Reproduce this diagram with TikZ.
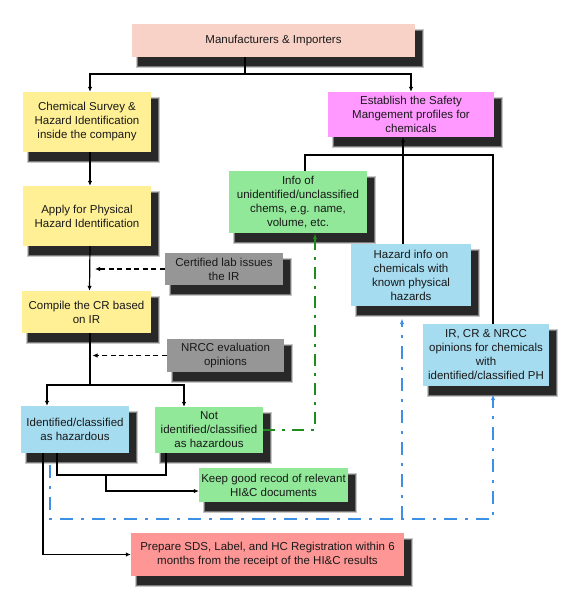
\documentclass[tikz,border=0pt]{standalone}
\usepackage{fontspec}
\setmainfont{Liberation Sans}
\usetikzlibrary{arrows.meta,calc}
\definecolor{cman}{RGB}{248,210,198}
\definecolor{cyel}{RGB}{255,240,150}
\definecolor{cpink}{RGB}{255,153,255}
\definecolor{cgreen}{RGB}{144,232,152}
\definecolor{cblue}{RGB}{166,220,240}
\definecolor{cgray}{RGB}{150,150,150}
\definecolor{cprep}{RGB}{255,150,150}
\definecolor{lgreen}{RGB}{30,140,30}
\definecolor{lblue}{RGB}{60,145,230}
\definecolor{shA}{RGB}{200,200,200}
\definecolor{shB}{RGB}{120,120,120}
\definecolor{shC}{RGB}{40,40,40}
\tikzset{
  box/.style={rectangle, inner sep=1pt, align=center,
    font=\fontsize{11.5}{14}\selectfont, text=black!90},
  ln/.style={line width=1.2pt, black},
  arr/.style={ln, -{Latex[length=5pt,width=4.5pt]}},
  dasharr/.style={arr, dash pattern=on 5pt off 3.5pt},
  greenarr/.style={line width=1.2pt, lgreen, dash pattern=on 12pt off 7pt on 3pt off 7pt,
    -{Latex[length=6pt,width=4.5pt]}},
  bluearr/.style={line width=1.2pt, lblue, dash pattern=on 13pt off 8pt on 3pt off 8pt,
    -{Latex[length=6pt,width=4.5pt]}},
}
% #1 name, #2 cx, #3 cy, #4 w, #5 h, #6 colour, #7 text
\newcommand\mybox[7]{%
  \fill[shA] ({#2-#4/2+4},{#3-#5/2+5}) rectangle ({#2+#4/2+9},{#3+#5/2+11});
  \fill[shB] ({#2-#4/2+5},{#3-#5/2+6}) rectangle ({#2+#4/2+8},{#3+#5/2+10});
  \fill[shC] ({#2-#4/2+6},{#3-#5/2+7}) rectangle ({#2+#4/2+7},{#3+#5/2+9});
  \node[box, fill=#6, minimum width=#4pt, minimum height=#5pt] (#1) at (#2,#3) {#7};
}
\begin{document}
\begin{tikzpicture}[x=1pt,y=-1pt]
\useasboundingbox (0,0) rectangle (574,600);
\fill[white] (0,0) rectangle (574,600);

\mybox{man}{273.5}{40.5}{283}{33}{cman}{Manufacturers \& Importers}
\mybox{chem}{87}{122}{128}{60}{cyel}{Chemical Survey \&\\Hazard Identification\\inside the company}
\mybox{est}{411}{114.5}{166}{45}{cpink}{Establish the Safety\\Mangement profiles for\\chemicals}
\mybox{apply}{87}{216}{128}{60}{cyel}{Apply for Physical\\Hazard Identification}
\mybox{info}{298}{202}{138}{62}{cgreen}{Info of\\unidentified/unclassified\\chems, e.g. name,\\volume, etc.}
\mybox{cert}{224}{269}{118}{32}{cgray}{Certified lab issues\\the IR}
\mybox{haz}{411}{275}{120}{62}{cblue}{Hazard info on\\chemicals with\\known physical\\hazards}
\mybox{comp}{86.5}{312}{129}{42}{cyel}{Compile the CR based\\on IR}
\mybox{nrcc}{225.5}{355.5}{117}{33}{cgray}{NRCC evaluation\\opinions}
\mybox{ircr}{486}{355}{126}{62}{cblue}{IR, CR \& NRCC\\opinions for chemicals\\with\\identified/classified PH}
\mybox{ident}{75}{429.5}{108}{47}{cblue}{Identified/classified\\as hazardous}
\mybox{notid}{209}{430}{108}{46}{cgreen}{Not\\identified/classified\\as hazardous}
\mybox{keep}{273.5}{485}{149}{34}{cgreen}{Keep good recod of relevant\\HI\&C documents}
\mybox{prep}{267.5}{554.5}{273}{43}{cprep}{Prepare SDS, Label, and HC Registration within 6\\months from the receipt of the HI\&C results}

% top split
\coordinate (j1) at (245,74);
\draw[ln] (man.south -| j1) -- (j1);
\draw[arr] (j1) -| ([xshift=3pt]chem.north);
\draw[arr] (j1) -| (est.north);

% left column
\draw[arr] ([xshift=3pt]chem.south) -- ([xshift=3pt]apply.north);
\draw[arr] ([xshift=3pt]apply.south) -- ([xshift=3pt]comp.north);
\draw[dasharr] (cert.west) -- ([xshift=8pt]cert.west -| apply.south);
\coordinate (j2) at (90,385);
\draw[ln] ([xshift=3.5pt]comp.south) -- (j2);
\draw[dasharr] (nrcc.west) -- ([xshift=6pt]nrcc.west -| comp.south);
\draw[arr] (j2) -| ([xshift=-28pt]ident.north);
\draw[arr] (j2) -| ([xshift=-25pt]notid.north);

% green
\draw[greenarr] (notid.east) -| ([xshift=17pt]info.south);

% top right
\coordinate (j3) at (493,155);
\draw[ln] ([xshift=7pt]info.north) |- (j3) -- ([xshift=7pt]ircr.north);
\draw[arr] ([xshift=-8pt]haz.north) -- ([xshift=-8pt]est.south);

% blue
\coordinate (j4) at (402,519);
\draw[bluearr] ([xshift=-25pt,yshift=-12pt]ident.south) |- (j4) -| ([xshift=7pt,yshift=-8pt]ircr.south);
\draw[bluearr] (j4) -- ([xshift=-9pt,yshift=-12pt]haz.south);

% bottom black
\coordinate (j5) at (106,475);
\draw[ln] ([xshift=-18pt]ident.south) |- (j5) -| ([xshift=-43pt]notid.south);
\draw[arr] (j5) |- ([yshift=-6pt]keep.west);
\draw[arr] ([xshift=-32pt]ident.south) |- (prep.west);
\end{tikzpicture}
\end{document}
